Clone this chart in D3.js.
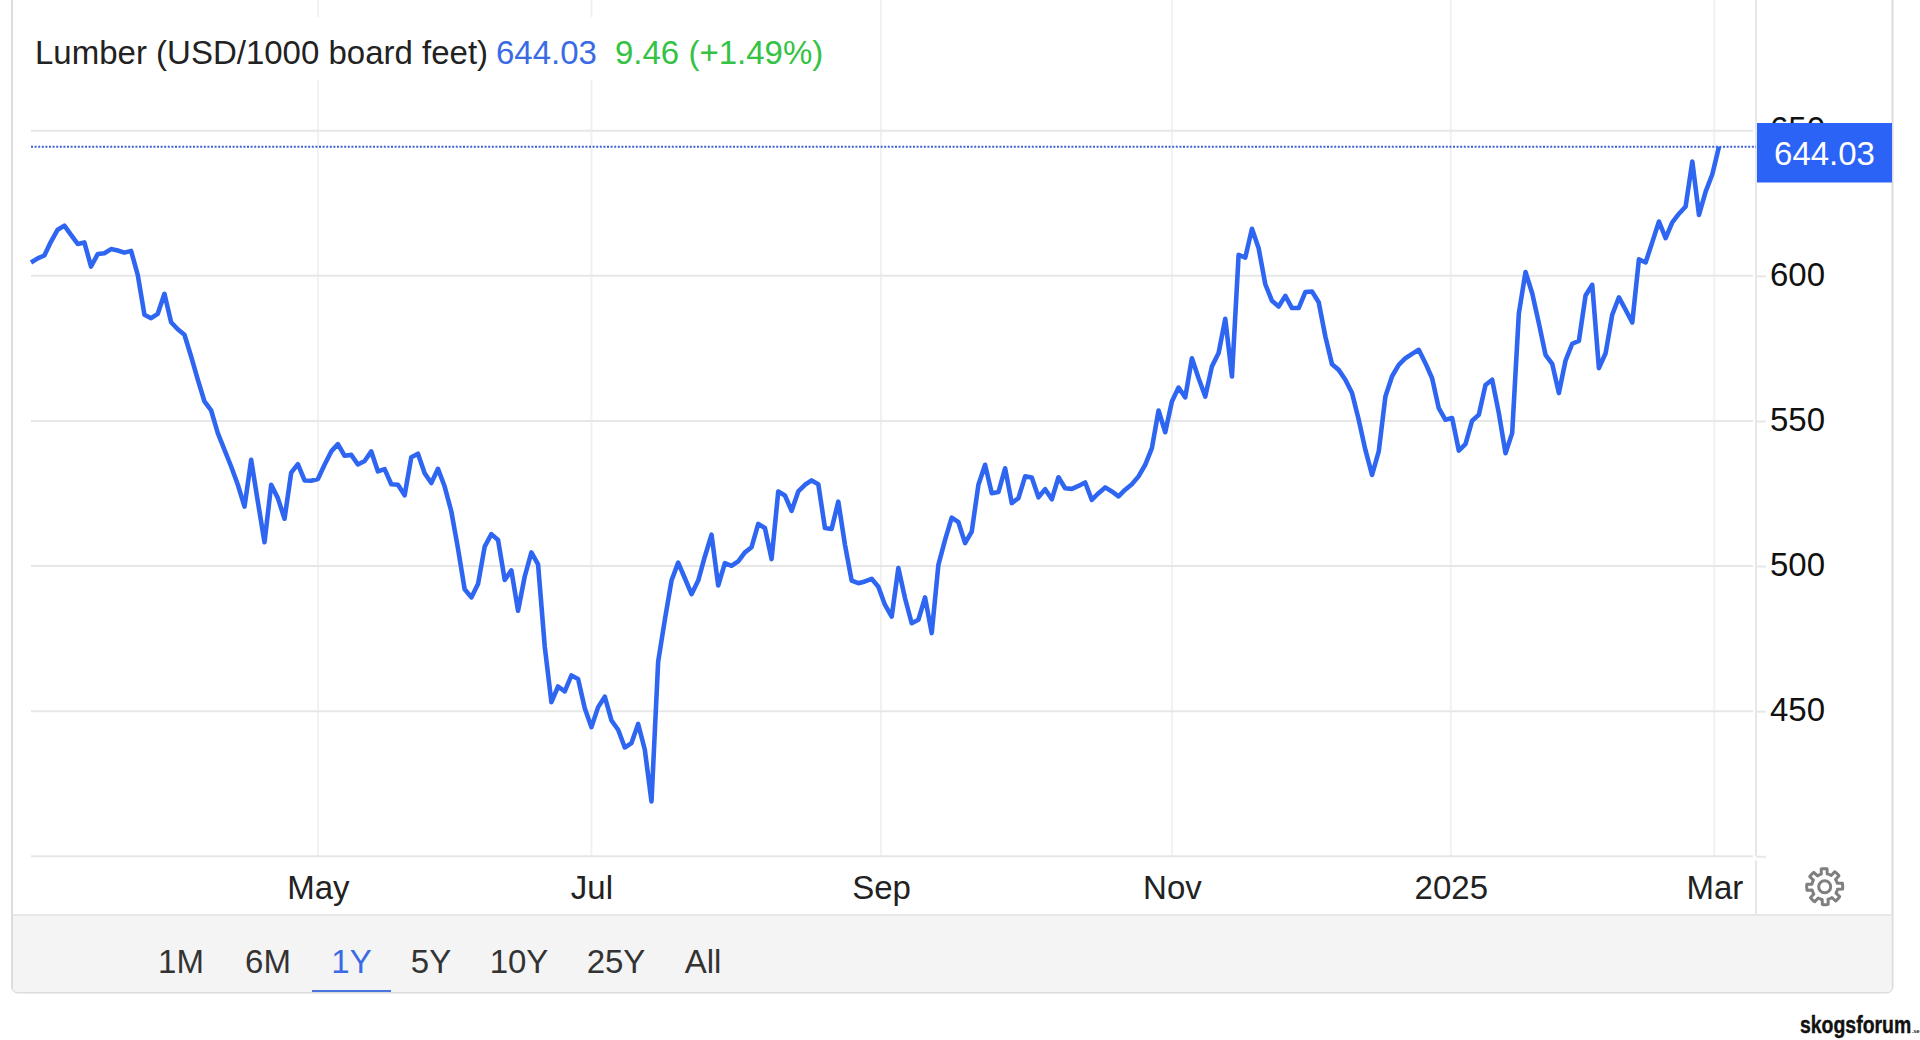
<!DOCTYPE html>
<html>
<head>
<meta charset="utf-8">
<title>Lumber</title>
<script src="https://cdn.jsdelivr.net/npm/d3@7"></script>
<style>
  html, body { margin: 0; padding: 0; background: #fff; }
  svg { display: block; }
  text { font-family: "Liberation Sans", Arial, sans-serif; }
  .axis path { display: none; }
</style>
</head>
<body>
<svg id="chart" width="1920" height="1040"></svg>
<script>
// one value per trading day
const prices = [
  604.6, 606.0, 607.0, 611.8, 615.9, 617.3, 614.1, 611.0, 611.5, 603.2, 607.5, 607.8, 609.2, 608.7, 608.0, 608.6,
  600.3, 586.6, 585.4, 586.9, 593.8, 584.0, 581.6, 579.7, 572.2, 564.2, 556.7, 553.6, 545.8, 540.0, 534.3, 528.0,
  520.5, 536.6, 522.2, 508.2, 528.0, 523.4, 516.3, 532.2, 535.1, 529.5, 529.4, 530.0, 534.9, 539.5, 542.0, 538.0,
  538.3, 535.0, 536.2, 539.5, 532.6, 533.4, 528.2, 528.0, 524.4, 537.5, 538.7, 532.0, 528.6, 533.5, 527.4, 518.8,
  506.0, 492.0, 489.2, 493.8, 506.7, 511.0, 509.0, 495.2, 498.5, 484.6, 496.4, 504.7, 500.6, 472.3, 453.1, 458.5,
  456.8, 462.3, 461.1, 451.0, 444.5, 451.4, 455.0, 446.8, 443.6, 437.5, 439.0, 445.6, 436.7, 418.9, 467.1, 481.5,
  495.0, 501.2, 495.8, 490.3, 495.0, 503.3, 510.8, 493.3, 501.0, 500.1, 501.6, 504.7, 506.5, 514.5, 513.1, 502.4,
  525.7, 524.3, 519.0, 525.7, 528.0, 529.5, 528.2, 513.1, 512.8, 522.2, 507.3, 495.0, 494.1, 494.7, 495.6, 492.9,
  486.6, 482.6, 499.3, 488.9, 480.3, 481.5, 489.2, 476.9, 500.4, 509.0, 516.7, 515.1, 507.9, 511.9, 528.0, 534.9,
  525.1, 525.5, 533.7, 521.7, 523.4, 530.9, 530.5, 523.7, 526.5, 523.0, 530.6, 526.8, 526.6, 527.6, 528.8, 522.8,
  525.1, 527.1, 525.7, 524.0, 526.3, 528.2, 530.9, 534.9, 540.6, 553.6, 546.1, 556.7, 561.5, 558.1, 571.6, 564.7,
  558.4, 568.8, 573.4, 585.2, 565.3, 607.2, 606.3, 616.2, 609.5, 597.1, 591.4, 589.4, 593.1, 588.9, 588.9, 594.4,
  594.6, 590.9, 579.1, 569.5, 567.6, 564.2, 559.6, 550.4, 540.0, 531.4, 539.5, 558.4, 565.4, 569.3, 571.6, 573.1,
  574.5, 569.9, 564.7, 554.4, 550.4, 551.0, 539.8, 542.0, 550.1, 552.1, 562.4, 564.2, 552.7, 538.9, 545.8, 587.1,
  601.3, 594.0, 583.7, 572.8, 569.7, 559.6, 570.8, 576.6, 577.6, 593.2, 596.9, 568.2, 573.3, 586.6, 592.6, 588.3,
  583.9, 605.7, 604.6, 611.6, 618.7, 613.0, 618.4, 621.4, 623.9, 639.4, 621.0, 629.0, 635.0, 644.5
];
const xTickIndex = [43, 84, 127.4, 171, 212.8, 252.3];
const xTickLabels = ["May", "Jul", "Sep", "Nov", "2025", "Mar"];
const yGrid = [400, 450, 500, 550, 600, 650];
const ranges = ["1M", "6M", "1Y", "5Y", "10Y", "25Y", "All"];
const rangeX = [181, 268, 351.5, 431, 519, 616, 703];
const selectedRange = "1Y";
const titleName = "Lumber (USD/1000 board feet)";
const lastLabel = "644.03";
const changeLabel = "9.46 (+1.49%)";

const blue = "#2f66f1";
const gridH = "#e7e7e7";
const gridV = "#f1f1f1";
const fontSize = 33;

const svg = d3.select("#chart");

const plotLeft = 31, plotRight = 1753, lastX = 1719, axisX = 1756;
const plotTop = 130.7, plotBottom = 856.3;

const x = d3.scaleLinear().domain([0, prices.length - 1]).range([plotLeft, lastX]);
const y = d3.scaleLinear().domain([400, 650]).range([plotBottom, plotTop]);

// panel
svg.append("rect")
  .attr("x", 12).attr("y", -10).attr("width", 1880.5).attr("height", 1002.5).attr("rx", 6)
  .attr("fill", "#fff").attr("stroke", "#dcdcdc").attr("stroke-width", 2);

// range bar
const barClip = svg.append("clipPath").attr("id", "panel-clip");
barClip.append("rect").attr("x", 12).attr("y", -10).attr("width", 1880.5).attr("height", 1002.5).attr("rx", 6);
svg.append("rect")
  .attr("x", 13).attr("y", 915).attr("width", 1878.5).attr("height", 77)
  .attr("clip-path", "url(#panel-clip)")
  .attr("fill", "#f4f4f4");
svg.append("line")
  .attr("x1", 13).attr("x2", 1891.5).attr("y1", 915).attr("y2", 915)
  .attr("stroke", gridH).attr("stroke-width", 2);

// vertical grid
svg.append("g")
  .selectAll("line")
  .data(xTickIndex)
  .join("line")
  .attr("x1", (d) => x(d)).attr("x2", (d) => x(d))
  .attr("y1", 0).attr("y2", plotBottom)
  .attr("stroke", gridV).attr("stroke-width", 2);

// title sits on a white patch that hides the grid
svg.append("rect")
  .attr("x", 20).attr("y", 17).attr("width", 812).attr("height", 63).attr("fill", "#fff");

// horizontal grid
svg.append("g")
  .selectAll("line")
  .data(yGrid)
  .join("line")
  .attr("x1", plotLeft).attr("x2", plotRight)
  .attr("y1", (d) => y(d)).attr("y2", (d) => y(d))
  .attr("stroke", gridH).attr("stroke-width", 2);

// right axis, broken just under the plot like the original
svg.append("line")
  .attr("x1", axisX).attr("x2", axisX).attr("y1", 0).attr("y2", plotBottom)
  .attr("stroke", gridH).attr("stroke-width", 2);
svg.append("line")
  .attr("x1", axisX).attr("x2", axisX).attr("y1", plotBottom + 4).attr("y2", 915)
  .attr("stroke", gridH).attr("stroke-width", 2);

const yAxis = svg.append("g")
  .attr("class", "axis")
  .attr("transform", `translate(${axisX},0)`)
  .call(d3.axisRight(y).tickValues(yGrid).tickSize(10).tickPadding(4));
yAxis.selectAll("line").attr("stroke", gridH).attr("stroke-width", 2);
yAxis.selectAll("text")
  .attr("font-size", fontSize).attr("fill", "#111")
  .attr("font-family", "Liberation Sans")
  .attr("dy", "0.28em");
// the 400 line carries no label
yAxis.selectAll(".tick").filter((d) => d === 400).select("text").remove();

const xAxis = svg.append("g")
  .attr("class", "axis")
  .attr("transform", "translate(0,899)")
  .call(
    d3.axisBottom(x)
      .tickValues(xTickIndex)
      .tickFormat((d, i) => xTickLabels[i])
      .tickSize(0)
      .tickPadding(0)
  );
xAxis.selectAll("text")
  .attr("font-size", fontSize).attr("fill", "#222")
  .attr("font-family", "Liberation Sans")
  .attr("dy", 0);

// last value line and marker
const lastValue = prices[prices.length - 1];
svg.append("line")
  .attr("x1", plotLeft).attr("x2", axisX)
  .attr("y1", y(lastValue)).attr("y2", y(lastValue))
  .attr("stroke", "#3d63d6").attr("stroke-width", 2).attr("stroke-dasharray", "2 1.6");

svg.append("path")
  .datum(prices)
  .attr("fill", "none")
  .attr("stroke", blue)
  .attr("stroke-width", 4.6)
  .attr("stroke-linejoin", "round")
  .attr("d", d3.line().x((d, i) => x(i)).y((d) => y(d)));

svg.append("rect")
  .attr("x", 1757).attr("y", 123).attr("width", 135).attr("height", 59.5).attr("fill", "#2a63f6");
svg.append("text")
  .attr("x", 1824.5).attr("y", 165).attr("text-anchor", "middle")
  .attr("font-size", fontSize).attr("fill", "#fff")
  .text(lastLabel);

// title
svg.append("text").attr("x", 35).attr("y", 64)
  .attr("font-size", fontSize).attr("fill", "#222").text(titleName);
svg.append("text").attr("x", 496).attr("y", 64)
  .attr("font-size", fontSize).attr("fill", "#3b6be4").text(lastLabel);
svg.append("text").attr("x", 615).attr("y", 64)
  .attr("font-size", fontSize).attr("fill", "#35c245").text(changeLabel);

// settings gear
const gearCx = 1824.7, gearCy = 886.7;
const gearPts = d3.range(0, 96).map((k) => {
  const a = (k / 96) * 2 * Math.PI;
  const phase = ((k + 3) % 12) / 12;
  return [a, phase < 0.5 ? 18 : 13];
});
svg.append("path")
  .attr("transform", `translate(${gearCx},${gearCy})`)
  .attr("fill", "none").attr("stroke", "#7f7f7f").attr("stroke-width", 3)
  .attr("stroke-linejoin", "round")
  .attr("d", d3.lineRadial().curve(d3.curveLinearClosed)(gearPts));
svg.append("circle")
  .attr("cx", gearCx).attr("cy", gearCy).attr("r", 6)
  .attr("fill", "none").attr("stroke", "#7f7f7f").attr("stroke-width", 3);

// range buttons
svg.append("g")
  .selectAll("text")
  .data(ranges)
  .join("text")
  .attr("x", (d, i) => rangeX[i]).attr("y", 973)
  .attr("text-anchor", "middle")
  .attr("font-size", fontSize)
  .attr("fill", (d) => (d === selectedRange ? "#3b6be4" : "#333"))
  .text((d) => d);
svg.append("line")
  .attr("x1", 312).attr("x2", 391).attr("y1", 991).attr("y2", 991)
  .attr("stroke", "#4a75e0").attr("stroke-width", 2);

// watermark, squeezed to look condensed
svg.append("text")
  .attr("transform", "translate(1800,1033) scale(0.81,1)")
  .attr("font-size", 24).attr("font-weight", "bold").attr("fill", "#111")
  .attr("stroke", "#111").attr("stroke-width", 0.4)
  .text("skogsforum");
svg.append("text").attr("x", 1912).attr("y", 1033)
  .attr("font-size", 5.5).attr("font-weight", "bold").attr("fill", "#111")
  .text(".se");
</script>
</body>
</html>
